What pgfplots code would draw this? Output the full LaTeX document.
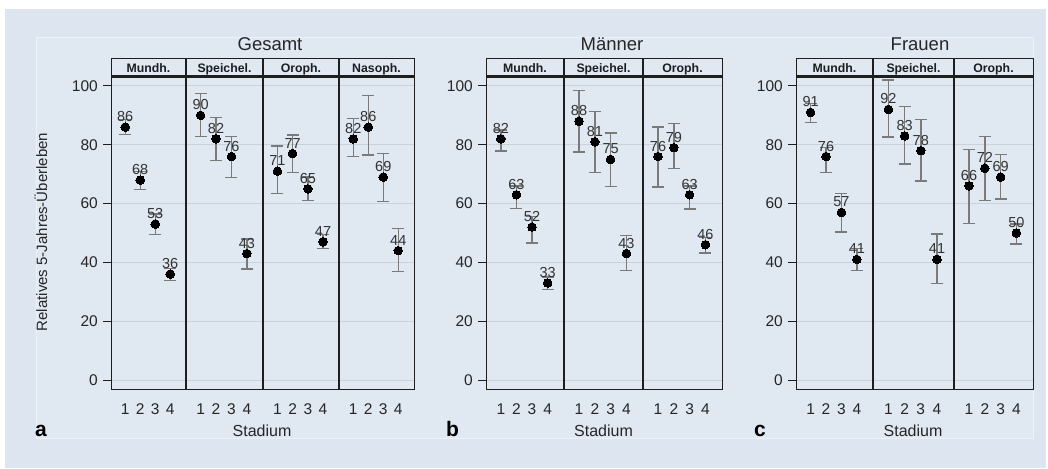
\documentclass[border=0pt]{standalone}
\usepackage{fontspec}
\setmainfont{Liberation Sans}
\usepackage{pgfplots}
\usepackage{pgfplotstable}
\pgfplotsset{compat=1.18}
\definecolor{bgout}{HTML}{DDE6F0}
\definecolor{bgin}{HTML}{E0E8F2}
\definecolor{bgline}{HTML}{EEF2F8}
\definecolor{gridc}{HTML}{C8D1DC}
\definecolor{errc}{HTML}{7A7A7A}
\definecolor{dark}{HTML}{1E1E1E}
\definecolor{labc}{HTML}{333333}

% x = stage, y = estimate, lo/hi = confidence limits, l = printed label
\pgfplotstableread{
x y lo hi l
1 86 83.5 88.5 86
2 68 64.7 71.0 68
3 53 49.4 56.5 53
4 36 33.9 38.0 36
}\gMund
\pgfplotstableread{
x y lo hi l
1 90 82.9 97.4 90
2 82 74.6 89.2 82
3 76 68.9 82.9 76
4 43 37.8 48.0 43
}\gSpei
\pgfplotstableread{
x y lo hi l
1 71 63.5 79.6 71
2 77 70.6 83.3 77
3 65 61.1 69.0 65
4 47 44.7 49.5 47
}\gOro
\pgfplotstableread{
x y lo hi l
1 82 76.0 89.0 82
2 86 76.5 96.7 86
3 69 60.6 77.1 69
4 44 36.8 51.6 44
}\gNas
\pgfplotstableread{
x y lo hi l
1 82 77.9 85.0 82
2 63 58.3 66.0 63
3 52 46.6 55.5 52
4 33 30.7 35.0 33
}\mMund
\pgfplotstableread{
x y lo hi l
1 88 77.6 98.5 88
2 81 70.5 91.3 81
3 75 65.9 84.0 75
4 43 37.3 49.2 43
}\mSpei
\pgfplotstableread{
x y lo hi l
1 76 65.6 86.1 76
2 79 72.0 87.2 79
3 63 58.1 66.0 63
4 46 43.2 48.5 46
}\mOro
\pgfplotstableread{
x y lo hi l
1 91 87.5 94.0 91
2 76 70.5 79.0 76
3 57 50.3 63.5 57
4 41 37.2 44.7 41
}\fMund
\pgfplotstableread{
x y lo hi l
1 92 82.7 102.0 92
2 83 73.5 93.0 83
3 78 67.7 88.5 78
4 41 32.9 49.7 41
}\fSpei
\pgfplotstableread{
x y lo hi l
1 66 53.3 78.4 66
2 72 61.1 82.9 72
3 69 61.5 76.7 69
4 50 46.2 53.0 50
}\fOro

\pgfplotsset{
  panel/.style={
    scale only axis, height=312pt, anchor=south west,
    xmin=0.05, xmax=5.05, ymin=-3.4, ymax=102.7,
    xtick={1,2,3,4}, xticklabels={1,2,3,4}, xtick style={draw=none},
    ytick={0,20,40,60,80,100},
    ymajorgrids, grid style={color=gridc, line width=0.9pt},
    axis line style={color=dark, line width=1pt},
    tick align=outside, major tick length=8pt,
    tick label style={font=\fontsize{15.5}{15.5}\selectfont, text=black!85},
    xticklabel style={anchor=base, yshift=-16pt},
    clip=false,
  },
  firstpanel/.style={ytick style={color=dark, line width=1pt},
    yticklabels={0,20,40,60,80,100},
    yticklabel style={anchor=east, inner sep=0pt, xshift=-5pt}},
  otherpanel/.style={yticklabels={}, ytick style={draw=none}},
}

\newcommand{\panel}[5]{%
  \begin{axis}[panel, at={(#1pt,78pt)}, width=#2pt, #5]
    \addplot[only marks, mark=none,
      error bars/.cd, y dir=both, y explicit,
      error bar style={color=errc, line width=1.4pt},
      error mark options={rotate=90, mark size=6pt, color=errc, line width=1.4pt}]
      table[x=x, y=y, y error plus expr=\thisrow{hi}-\thisrow{y},
            y error minus expr=\thisrow{y}-\thisrow{lo}] {#3};
    \addplot[only marks, mark=*, mark size=4.3pt, mark options={fill=black, draw=black, line width=0pt},
      point meta=explicit symbolic,
      nodes near coords={\pgfplotspointmeta},
      every node near coord/.append style={anchor=base, yshift=5.5pt, inner sep=0pt,
        font=\fontsize{14.5}{14.5}\selectfont, text=labc}]
      table[x=x, y=y, meta=l] {#3};
  \end{axis}
  \filldraw[fill=bgin, draw=dark, line width=1pt] (#1pt,390pt) rectangle ++(#2pt,19pt);
  \draw[dark, line width=2.5pt] (#1pt,391.5pt) -- ++(#2pt,0pt);
  \node[anchor=base, font=\bfseries\fontsize{12.3}{12.3}\selectfont, text=dark, inner sep=0pt]
    at ({#1pt+0.5*#2pt},395pt) {#4};
}

\begin{document}
\begin{tikzpicture}
\useasboundingbox (0pt,0pt) rectangle (1048pt,468pt);
\fill[white] (0pt,0pt) rectangle (1048pt,468pt);
\fill[bgout] (5pt,0pt) rectangle (1046pt,459pt);
\filldraw[fill=bgin, draw=bgline, line width=0.8pt] (36pt,30pt) rectangle (1033pt,431pt);

% a: Gesamt
\panel{111}{75}{\gMund}{Mundh.}{firstpanel}
\panel{186}{77}{\gSpei}{Speichel.}{otherpanel}
\panel{263}{76}{\gOro}{Oroph.}{otherpanel}
\panel{339}{75}{\gNas}{Nasoph.}{otherpanel}
% b: Maenner
\panel{486}{78}{\mMund}{Mundh.}{firstpanel}
\panel{564}{79}{\mSpei}{Speichel.}{otherpanel}
\panel{643}{79}{\mOro}{Oroph.}{otherpanel}
% c: Frauen
\panel{796}{77}{\fMund}{Mundh.}{firstpanel}
\panel{873}{81}{\fSpei}{Speichel.}{otherpanel}
\panel{954}{79}{\fOro}{Oroph.}{otherpanel}

% panel dividers
\foreach \xx in {186,263,339,564,643,873,954}
  \draw[dark, line width=2.5pt] (\xx pt,78pt) -- (\xx pt,409pt);

% titles
\node[anchor=base, font=\fontsize{18.5}{18.5}\selectfont, text=black!85] at (270pt,417.5pt) {Gesamt};
\node[anchor=base, font=\fontsize{18.5}{18.5}\selectfont, text=black!85] at (612pt,417.5pt) {Männer};
\node[anchor=base, font=\fontsize{18.5}{18.5}\selectfont, text=black!85] at (920pt,417.5pt) {Frauen};

% x labels
\node[anchor=base, font=\fontsize{16}{16}\selectfont, text=black!85] at (262pt,31pt) {Stadium};
\node[anchor=base, font=\fontsize{16}{16}\selectfont, text=black!85] at (603.5pt,31pt) {Stadium};
\node[anchor=base, font=\fontsize{16}{16}\selectfont, text=black!85] at (913pt,31pt) {Stadium};

% panel letters
\node[anchor=base west, inner sep=0pt, font=\bfseries\fontsize{21}{21}\selectfont] at (35pt,31pt) {a};
\node[anchor=base west, inner sep=0pt, font=\bfseries\fontsize{21}{21}\selectfont] at (446pt,31pt) {b};
\node[anchor=base west, inner sep=0pt, font=\bfseries\fontsize{21}{21}\selectfont] at (754pt,31pt) {c};

% y label
\node[rotate=90, font=\fontsize{15}{15}\selectfont, text=black!85] at (41pt,236pt) {Relatives 5-Jahres-Überleben};
\end{tikzpicture}
\end{document}
